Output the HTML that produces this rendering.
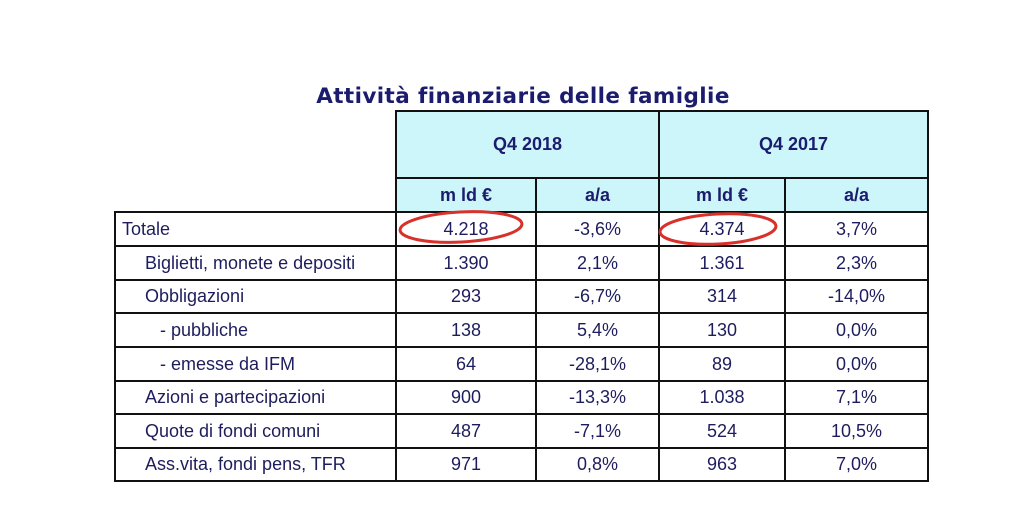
<!DOCTYPE html>
<html><head><meta charset="utf-8"><style>
body{margin:0;width:1024px;height:512px;background:#fff;position:relative;overflow:hidden;font-family:"Liberation Sans",sans-serif;color:#1d1d5e}
.t{position:absolute;left:0;top:84px;width:1046px;text-align:center;font-family:"DejaVu Sans",sans-serif;font-weight:bold;font-size:21.5px;color:#1c1c6e;letter-spacing:0.4px}
table{position:absolute;left:114px;top:110px;border-collapse:collapse;font-size:18px;table-layout:fixed;width:813px}
td{border:2px solid #111;padding:0;text-align:center;height:32px;box-sizing:border-box;white-space:nowrap;overflow:hidden}
.hd{background:#cdf6fb;font-weight:bold;color:#1c1c6e}
.lab{text-align:left}
.e{border:none;border-right:2px solid #111;border-bottom:2px solid #111;background:#fff}
</style></head><body>
<div class="t">Attività finanziarie delle famiglie</div>
<table>
<colgroup><col style="width:281px"><col style="width:140px"><col style="width:123px"><col style="width:126px"><col style="width:143px"></colgroup>
<tr><td class="e" rowspan="2"></td><td class="hd" colspan="2" style="height:67px">Q4 2018</td><td class="hd" colspan="2">Q4 2017</td></tr>
<tr><td class="hd" style="height:34px">m ld €</td><td class="hd">a/a</td><td class="hd">m ld €</td><td class="hd">a/a</td></tr>
<tr style="height:34px"><td class="lab" style="padding-left:6px">Totale</td><td>4.218</td><td>-3,6%</td><td>4.374</td><td>3,7%</td></tr>
<tr style="height:34px"><td class="lab" style="padding-left:29px">Biglietti, monete e depositi</td><td>1.390</td><td>2,1%</td><td>1.361</td><td>2,3%</td></tr>
<tr style="height:33px"><td class="lab" style="padding-left:29px">Obbligazioni</td><td>293</td><td>-6,7%</td><td>314</td><td>-14,0%</td></tr>
<tr style="height:34px"><td class="lab" style="padding-left:44px">- pubbliche</td><td>138</td><td>5,4%</td><td>130</td><td>0,0%</td></tr>
<tr style="height:34px"><td class="lab" style="padding-left:44px">- emesse da IFM</td><td>64</td><td>-28,1%</td><td>89</td><td>0,0%</td></tr>
<tr style="height:33px"><td class="lab" style="padding-left:29px">Azioni e partecipazioni</td><td>900</td><td>-13,3%</td><td>1.038</td><td>7,1%</td></tr>
<tr style="height:34px"><td class="lab" style="padding-left:29px">Quote di fondi comuni</td><td>487</td><td>-7,1%</td><td>524</td><td>10,5%</td></tr>
<tr style="height:33px"><td class="lab" style="padding-left:29px">Ass.vita, fondi pens, TFR</td><td>971</td><td>0,8%</td><td>963</td><td>7,0%</td></tr>
</table>
<svg style="position:absolute;left:0;top:0" width="1024" height="512">
<ellipse cx="461" cy="227" rx="61" ry="15" fill="none" stroke="#d8302a" stroke-width="3" transform="rotate(-3 461 227)"/>
<ellipse cx="718" cy="229" rx="58" ry="15" fill="none" stroke="#d8302a" stroke-width="3" transform="rotate(-3 718 229)"/>
</svg>
</body></html>
